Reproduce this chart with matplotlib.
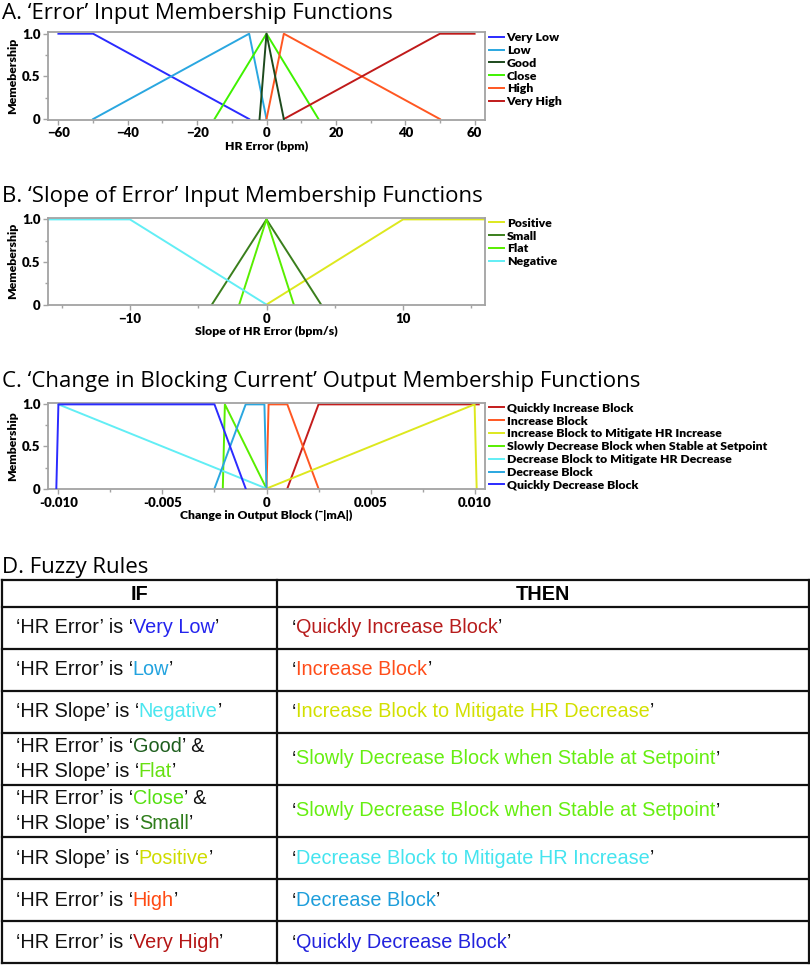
import matplotlib
matplotlib.use('Agg')
import matplotlib.pyplot as plt
from matplotlib.ticker import MultipleLocator

# ---- A. error input membership functions (HR error, bpm) ----
err_labels = ['Very Low', 'Low', 'Good', 'Close', 'High', 'Very High']
err_x = [[-60, -50, -5], [-50, -5, 0], [-2, 0, 5], [-15, 0, 15], [0, 5, 50], [5, 50, 60]]
err_y = [[1, 1, 0], [0, 1, 0], [0, 1, 0], [0, 1, 0], [0, 1, 0], [0, 1, 1]]
err_colors = ['#2b2bff', '#2aa7e0', '#1d4a1d', '#3ff200', '#ff5722', '#c01a1a']

# ---- B. slope of error input membership functions (bpm/s) ----
slope_labels = ['Positive', 'Small', 'Flat', 'Negative']
slope_x = [[0, 10, 16], [-4, 0, 4], [-2, 0, 2], [-16, -10, 0]]
slope_y = [[0, 1, 1], [0, 1, 0], [0, 1, 0], [1, 1, 0]]
slope_colors = ['#dde81e', '#3a7f1c', '#58ee00', '#62eef5']

# ---- C. change in blocking current output membership functions ----
out_labels = ['Quickly Increase Block', 'Increase Block',
              'Increase Block to Mitigate HR Increase',
              'Slowly Decrease Block when Stable at Setpoint',
              'Decrease Block to Mitigate HR Decrease', 'Decrease Block',
              'Quickly Decrease Block']
out_x = [[0.001, 0.0025, 0.0102], [0, 0.0001, 0.001, 0.0025], [0, 0.01, 0.0101],
         [-0.0021, -0.002, 0], [-0.01, 0], [-0.0025, -0.001, -0.0001, 0],
         [-0.0101, -0.01, -0.0025, -0.001]]
out_y = [[0, 1, 1], [0, 1, 1, 0], [0, 1, 0], [0, 1, 0], [1, 0], [0, 1, 1, 0], [0, 1, 1, 0]]
out_colors = ['#c41c1c', '#ff5722', '#dde81e', '#58ee00', '#62eef5', '#2aa7e0', '#2b2bff']

# ---- D. fuzzy rules ----
K = '#111111'
rule_if = [
    [[('‘HR Error’ is ‘', K), ('Very Low', '#2424ee'), ('’', K)]],
    [[('‘HR Error’ is ‘', K), ('Low', '#22a3df'), ('’', K)]],
    [[('‘HR Slope’ is ‘', K), ('Negative', '#4ae6ef'), ('’', K)]],
    [[('‘HR Error’ is ‘', K), ('Good', '#1d5e1d'), ('’ &', K)],
     [('‘HR Slope’ is ‘', K), ('Flat', '#66e010'), ('’', K)]],
    [[('‘HR Error’ is ‘', K), ('Close', '#55e010'), ('’ &', K)],
     [('‘HR Slope’ is ‘', K), ('Small', '#2e7d1a'), ('’', K)]],
    [[('‘HR Slope’ is ‘', K), ('Positive', '#cfdc00'), ('’', K)]],
    [[('‘HR Error’ is ‘', K), ('High', '#ff4a12'), ('’', K)]],
    [[('‘HR Error’ is ‘', K), ('Very High', '#b51515'), ('’', K)]],
]
rule_then = [
    ('Quickly Increase Block', '#b71c1c'),
    ('Increase Block', '#ff4d1a'),
    ('Increase Block to Mitigate HR Decrease', '#d2e000'),
    ('Slowly Decrease Block when Stable at Setpoint', '#66ee11'),
    ('Slowly Decrease Block when Stable at Setpoint', '#66ee11'),
    ('Decrease Block to Mitigate HR Increase', '#44e4ef'),
    ('Decrease Block', '#1e9edb'),
    ('Quickly Decrease Block', '#2222dd'),
]

W, H = 810, 965
fig = plt.figure(figsize=(W / 100, H / 100), dpi=100)

FAM = ['Lato', 'DejaVu Sans']
lab_font = dict(family=FAM, weight='heavy', size=8.8)
title_font = dict(family=['Open Sans', 'DejaVu Sans'], size=16)
GRAY = '#a3a3a3'


def make_axes(top_px, bot_px):
    ax = fig.add_axes([48 / W, 1 - bot_px / H, 437 / W, (bot_px - top_px) / H])
    for s in ax.spines.values():
        s.set_color(GRAY)
        s.set_linewidth(1.3)
    ax.tick_params(which='both', color=GRAY, width=1, pad=2)
    ax.tick_params(which='major', length=3.5)
    ax.tick_params(which='minor', length=2)
    ax.set_ylim(-0.005, 1.02)
    ax.set_yticks([0, 0.5, 1])
    ax.set_yticklabels(['0', '0.5', '1.0'])
    ax.yaxis.set_minor_locator(MultipleLocator(0.25))
    return ax


def finish(ax, xlabel, ylabel):
    for t in ax.get_xticklabels() + ax.get_yticklabels():
        t.set_fontfamily(FAM)
        t.set_fontweight('heavy')
        t.set_fontsize(9.5)
    ax.set_xlabel(xlabel, fontdict=lab_font, labelpad=1)
    ax.set_ylabel(ylabel, fontdict=lab_font, labelpad=3)
    ax.legend(loc='upper left', bbox_to_anchor=(1.009, 1.0), frameon=False,
              borderaxespad=0, borderpad=0, handlelength=1.2, handletextpad=0.25,
              labelspacing=0.15, prop=dict(family=FAM, weight='heavy', size=8.8))


# panel A
fig.text(2 / W, 1 - 19.5 / H, 'A. ‘Error’ Input Membership Functions', va='baseline', **title_font)
axA = make_axes(32, 119.5)
for i in range(len(err_labels)):
    axA.plot(err_x[i], err_y[i], color=err_colors[i], lw=1.4, label=err_labels[i],
             zorder=3 if err_labels[i] == 'Good' else 2)
axA.set_xlim(-63, 63)
axA.set_xticks([-60, -40, -20, 0, 20, 40, 60])
axA.xaxis.set_minor_locator(MultipleLocator(10))
finish(axA, 'HR Error (bpm)', 'Memebership')

# panel B
fig.text(2 / W, 1 - 201.7 / H, 'B. ‘Slope of Error’ Input Membership Functions', va='baseline', **title_font)
axB = make_axes(217.7, 305)
for i in range(len(slope_labels)):
    axB.plot(slope_x[i], slope_y[i], color=slope_colors[i], lw=1.4, label=slope_labels[i])
axB.set_xlim(-16, 16)
axB.set_xticks([-10, 0, 10])
axB.xaxis.set_minor_locator(MultipleLocator(5))
finish(axB, 'Slope of HR Error (bpm/s)', 'Memebership')

# panel C
fig.text(2 / W, 1 - 387.3 / H, 'C. ‘Change in Blocking Current’ Output Membership Functions',
         va='baseline', **title_font)
axC = make_axes(402.7, 489)
for i in range(len(out_labels)):
    axC.plot(out_x[i], out_y[i], color=out_colors[i], lw=1.4, label=out_labels[i], zorder=2 + i * 0.1)
axC.set_xlim(-0.0105, 0.0105)
axC.set_xticks([-0.01, -0.005, 0, 0.005, 0.01])
axC.set_xticklabels(['-0.010', '-0.005', '0', '0.005', '0.010'])
axC.xaxis.set_minor_locator(MultipleLocator(0.0025))
finish(axC, 'Change in Output Block (¯|mA|)', 'Membership')

# panel D: rules table drawn in pixel coordinates
fig.text(2 / W, 1 - 573.3 / H, 'D. Fuzzy Rules', va='baseline', **title_font)
axT = fig.add_axes([0, 0, 1, 1])
axT.set_xlim(0, W)
axT.set_ylim(H, 0)
axT.axis('off')

row_h = [26.5] + [52.3 if len(r) == 2 else 42 for r in rule_if]
edges = [580]
for h in row_h:
    edges.append(edges[-1] + h)
x_left, x_mid, x_right = 1.5, 277, 808.5
for e in edges:
    axT.plot([x_left, x_right], [e, e], color='#111111', lw=1.6, solid_capstyle='projecting')
for xv in (x_left, x_mid, x_right):
    axT.plot([xv, xv], [edges[0], edges[-1]], color='#111111', lw=1.6, solid_capstyle='projecting')

cell_font = dict(family=['Liberation Sans', 'DejaVu Sans'], size=14.3)
axT.text((x_left + x_mid) / 2, (edges[0] + edges[1]) / 2 + 1, 'IF', ha='center', va='center',
         weight='bold', **cell_font)
axT.text((x_mid + x_right) / 2, (edges[0] + edges[1]) / 2 + 1, 'THEN', ha='center', va='center',
         weight='bold', **cell_font)


def rich(x, y, parts):
    t = axT.text(x, y, parts[0][0], color=parts[0][1], va='center', **cell_font)
    for s, c in parts[1:]:
        t = axT.annotate(s, xy=(1, 0), xycoords=t, va='bottom', color=c, **cell_font)


for i, lines in enumerate(rule_if):
    yc = (edges[i + 1] + edges[i + 2]) / 2
    if len(lines) == 1:
        rich(15.5, yc, lines[0])
    else:
        rich(15.5, yc - 12.5, lines[0])
        rich(15.5, yc + 12.5, lines[1])
    txt, col = rule_then[i]
    rich(292, yc, [('‘', K), (txt, col), ('’', K)])

fig.savefig('out.png', dpi=100)
